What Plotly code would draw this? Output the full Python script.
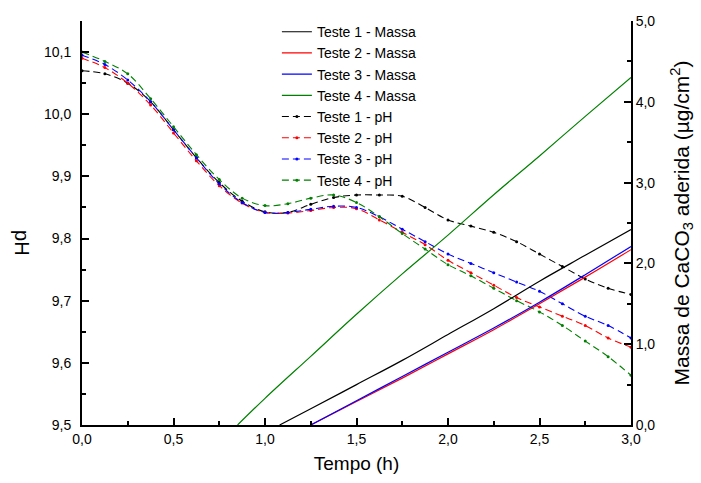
import plotly.graph_objects as go

# ---- pH data (dashed lines) ----
t_ph = [0, 0.125, 0.25, 0.375, 0.5, 0.625, 0.75, 0.875, 1.0, 1.125, 1.25, 1.375, 1.5,
        1.625, 1.75, 1.875, 2.0, 2.125, 2.25, 2.375, 2.5, 2.625, 2.75, 2.875, 3.0]
ph_t1 = [10.07, 10.065, 10.05, 10.02, 9.975, 9.93, 9.89, 9.86, 9.843, 9.842, 9.855, 9.866, 9.87,
         9.87, 9.868, 9.85, 9.83, 9.82, 9.81, 9.795, 9.775, 9.755, 9.735, 9.72, 9.71]
ph_t2 = [10.09, 10.075, 10.05, 10.015, 9.97, 9.925, 9.885, 9.857, 9.842, 9.841, 9.845, 9.85, 9.848,
         9.83, 9.81, 9.79, 9.765, 9.745, 9.725, 9.705, 9.69, 9.675, 9.66, 9.64, 9.625]
ph_t3 = [10.095, 10.08, 10.055, 10.02, 9.975, 9.93, 9.888, 9.858, 9.842, 9.842, 9.847, 9.852, 9.85,
         9.835, 9.815, 9.795, 9.775, 9.76, 9.745, 9.73, 9.715, 9.695, 9.675, 9.66, 9.64]
ph_t4 = [10.1, 10.085, 10.065, 10.025, 9.98, 9.935, 9.895, 9.865, 9.853, 9.856, 9.865, 9.87, 9.858,
         9.835, 9.808, 9.783, 9.758, 9.74, 9.72, 9.70, 9.682, 9.66, 9.635, 9.61, 9.58]

# ---- Mass data (solid lines) ----
t_m1 = [1.08, 1.25, 1.5, 1.75, 2.0, 2.25, 2.5, 2.75, 3.0]
m_t1 = [0.0, 0.2, 0.5, 0.8, 1.12, 1.44, 1.78, 2.1, 2.42]
t_m2 = [1.25, 1.5, 1.75, 2.0, 2.25, 2.5, 2.75, 3.0]
m_t2 = [0.0, 0.29, 0.58, 0.88, 1.18, 1.5, 1.83, 2.17]
t_m3 = [1.25, 1.5, 1.75, 2.0, 2.25, 2.5, 2.75, 3.0]
m_t3 = [0.0, 0.3, 0.6, 0.9, 1.2, 1.52, 1.86, 2.21]
t_m4 = [0.85, 1.0, 1.25, 1.5, 1.75, 2.0, 2.25, 2.5, 2.75, 3.0]
m_t4 = [0.0, 0.33, 0.85, 1.37, 1.87, 2.35, 2.85, 3.33, 3.82, 4.3]

colors = ["#000000", "#FF0000", "#0000FF", "#008000"]
mass_names = ["Teste 1 - Massa", "Teste 2 - Massa", "Teste 3 - Massa", "Teste 4 - Massa"]
ph_names = ["Teste 1 - pH", "Teste 2 - pH", "Teste 3 - pH", "Teste 4 - pH"]

FAM = "Arial, Liberation Sans, sans-serif"

fig = go.Figure()
for (tx, my), c, n in zip([(t_m1, m_t1), (t_m2, m_t2), (t_m3, m_t3), (t_m4, m_t4)], colors, mass_names):
    fig.add_trace(go.Scatter(x=tx, y=my, name=n, mode="lines", yaxis="y2",
                             line=dict(color=c, width=1.2, shape="spline")))
for py, c, n in zip([ph_t1, ph_t2, ph_t3, ph_t4], colors, ph_names):
    fig.add_trace(go.Scatter(x=t_ph, y=py, name=n, mode="lines+markers",
                             line=dict(color=c, width=1.1, dash="7px,4px", shape="spline"),
                             marker=dict(color=c, size=3)))

font = dict(family=FAM, size=14, color="#000000")
ax_common = dict(showline=True, linecolor="#000000", linewidth=1.8, ticks="inside",
                 ticklen=7, tickwidth=1.5, tickcolor="#000000", showgrid=False, zeroline=False,
                 tickfont=font, tickformat=".1f", mirror=False)

fig.update_layout(
    width=701, height=483,
    margin=dict(l=82, r=70, t=21, b=58),
    paper_bgcolor="white", plot_bgcolor="white",
    separators=", ",
    font=font,
    showlegend=True,
    legend=dict(x=0.355, y=1.012, xanchor="left", yanchor="top", bgcolor="rgba(0,0,0,0)",
                font=dict(family=FAM, size=14, color="#000000"),
                tracegroupgap=0, itemwidth=30),
    xaxis=dict(range=[0, 3], dtick=0.5, tick0=0,
               minor=dict(ticks="inside", ticklen=4, dtick=0.25, tickcolor="#000000", tickwidth=1.5),
               title=dict(text="Tempo (h)", font=dict(family=FAM, size=19), standoff=11),
               **ax_common),
    yaxis=dict(range=[9.5, 10.15], dtick=0.1, tick0=9.5,
               minor=dict(ticks="inside", ticklen=4, dtick=0.05, tickcolor="#000000", tickwidth=1.5),
               ticklabelstandoff=6,
               **ax_common),
    yaxis2=dict(range=[0, 5], dtick=1, tick0=0, overlaying="y", side="right",
                minor=dict(ticks="inside", ticklen=4, dtick=0.5, tickcolor="#000000", tickwidth=1.5),
                title=dict(text="Massa de CaCO<sub>3</sub> aderida (µg/cm<sup>2</sup>)",
                           font=dict(family=FAM, size=21), standoff=20),
                **ax_common),
    annotations=[dict(text="pH", x=-0.109, y=0.45, xref="paper", yref="paper",
                      xanchor="center", yanchor="middle", showarrow=False, textangle=90,
                      font=dict(family=FAM, size=20, color="#000000"))],
)

fig.write_html("out.html")
